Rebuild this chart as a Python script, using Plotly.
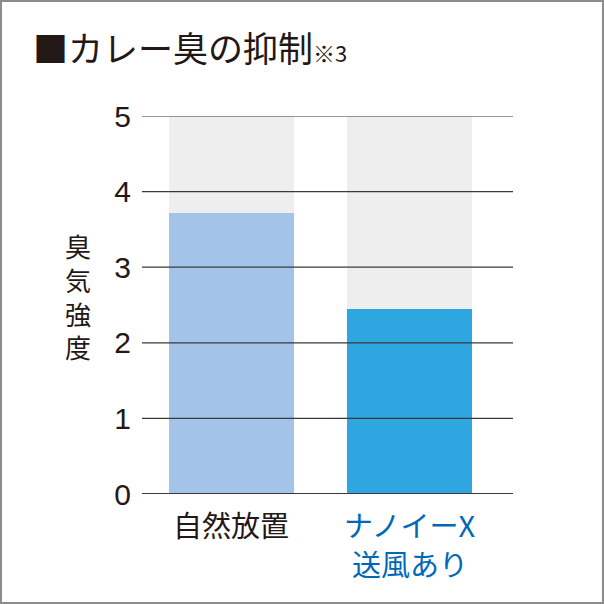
import plotly.graph_objects as go

# data
categories = ["自然放置", "ナノイーX<br>送風あり"]
values = [3.72, 2.45]
max_value = 5
y_ticks = [0, 1, 2, 3, 4, 5]
title_text = "■カレー臭の抑制"
note_text = "※3"
y_title = "臭気強度"

bar_colors = ["#a3c3e8", "#2ea7e0"]
label_colors = ["#231815", "#0068b7"]
ink = "#231815"
jp_font = "Noto Sans CJK JP"

W, H = 604, 604
L, R, T, B = 142, 91, 116, 110
pw, ph = W - L - R, H - T - B


def px_x(p):
    return (p - L) / pw


def px_y(p):
    return (H - B - p) / ph


x_pos = list(range(len(categories)))

fig = go.Figure()

# gray background bars up to the max
fig.add_trace(go.Bar(
    x=x_pos, y=[max_value] * len(categories),
    width=0.7, marker=dict(color="#eeeeee", line=dict(width=0)),
    hoverinfo="skip", showlegend=False
))

# value bars
fig.add_trace(go.Bar(
    x=x_pos, y=values,
    width=0.7, marker=dict(color=bar_colors, line=dict(width=0)),
    showlegend=False
))

shapes = []
# grid lines drawn above the bars
for t in y_ticks:
    shapes.append(dict(
        type="line", xref="paper", yref="y", x0=0, x1=1, y0=t, y1=t,
        line=dict(color="#3a3a3a", width=2 if t == 0 else 1.2), layer="above"
    ))
# frame around the whole picture
shapes.append(dict(
    type="rect", xref="paper", yref="paper",
    x0=px_x(1), x1=px_x(W - 1), y0=px_y(H - 1), y1=px_y(1),
    line=dict(color="#8c8c8c", width=2), layer="above"
))

annotations = []
# title
annotations.append(dict(
    xref="paper", yref="paper", x=px_x(31), y=px_y(46),
    xanchor="left", yanchor="middle", showarrow=False,
    text=title_text + f"<span style='font-size:22px'>{note_text}</span>",
    font=dict(family=jp_font, size=35, color=ink)
))
# vertical y-axis title, one character per line
annotations.append(dict(
    xref="paper", yref="paper", x=px_x(78), y=px_y(296),
    xanchor="center", yanchor="middle", showarrow=False,
    text="<br>".join(y_title), font=dict(family=jp_font, size=26, color=ink)
))
# category labels under the bars, one annotation per line
for i, cat in enumerate(categories):
    for n, line in enumerate(cat.split("<br>")):
        annotations.append(dict(
            xref="x", yref="paper", x=x_pos[i], y=px_y(524 + n * 38.5),
            xanchor="center", yanchor="middle", showarrow=False,
            text=line, font=dict(family=jp_font, size=29, color=label_colors[i])
        ))

fig.update_layout(
    width=W, height=H,
    margin=dict(l=L, r=R, t=T, b=B, pad=0),
    paper_bgcolor="white", plot_bgcolor="white",
    barmode="overlay", bargap=0,
    xaxis=dict(range=[-0.5, 1.58], showticklabels=False, showgrid=False,
               zeroline=False, showline=False, fixedrange=True),
    yaxis=dict(range=[0, max_value], tickvals=y_ticks, showgrid=False,
               zeroline=False, showline=False, ticks="",
               ticklabelstandoff=10,
               tickfont=dict(family="Liberation Sans", size=30, color=ink),
               fixedrange=True),
    shapes=shapes,
    annotations=annotations,
)

fig.write_html("out.html", config={"displayModeBar": False},
               post_script="document.body.style.margin='0';")
